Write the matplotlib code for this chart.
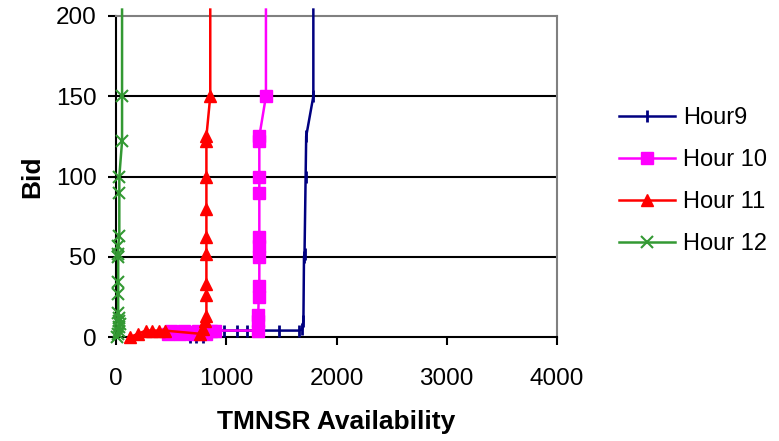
import matplotlib
matplotlib.use("Agg")
import matplotlib.pyplot as plt

plt.rcParams['font.family'] = ['Liberation Sans', 'DejaVu Sans']

# Hour 9
h9_x = [670, 725, 790, 930, 980, 1100, 1190, 1480, 1660, 1690, 1700, 1705, 1710, 1720, 1725, 1790, 1790]
h9_y = [0, 0, 0, 4, 4, 4, 4, 4, 4, 5, 10, 50, 52, 100, 125, 150, 204]
# Hour 10
h10_x = [470, 500, 540, 580, 620, 660, 700, 740, 780, 820, 860, 900, 1290, 1290, 1290, 1295, 1300, 1300, 1300, 1300, 1300, 1300, 1300, 1300, 1360, 1360]
h10_y = [2, 4, 3, 2, 4, 3, 2, 4, 3, 2, 4, 4, 4, 10, 14, 25, 32, 50, 57, 62, 90, 100, 122, 125, 150, 204]
# Hour 11
h11_x = [127, 200, 270, 330, 390, 440, 764, 790, 810, 820, 820, 820, 820, 820, 820, 820, 820, 820, 855, 855]
h11_y = [0, 2, 4, 4, 4, 4, 2, 5, 10, 13, 26, 33, 52, 62, 80, 100, 122, 125, 150, 204]
# Hour 12
h12_x = [10, 20, 25, 30, 40, 30, 25, 20, 20, 20, 20, 20, 20, 30, 30, 30, 55, 55, 55]
h12_y = [0, 2, 4, 6, 8, 10, 12, 15, 27, 34, 50, 52, 57, 63, 90, 100, 122, 150, 204]

x_ticks = [0, 1000, 2000, 3000, 4000]
y_ticks = [0, 50, 100, 150, 200]

fig = plt.figure(figsize=(7.79, 4.41), dpi=100)
ax = fig.add_axes([116/779, 1 - 337/441, (557-116)/779, (337-16)/441])

for yv in [50, 100, 150]:
    ax.axhline(yv, color='black', lw=1.5, zorder=1)

def mk(xs):
    return list(range(len(xs) - 1))

ax.plot(h9_x, h9_y, color='#000080', lw=1.8, marker='|', ms=8, mew=2, markevery=mk(h9_x),
        label='Hour9', clip_on=False, zorder=3)
ax.plot(h10_x, h10_y, color='#FF00FF', lw=1.8, marker='s', ms=9, markevery=mk(h10_x),
        label='Hour 10', clip_on=False, zorder=4)
ax.plot(h11_x, h11_y, color='#FF0000', lw=1.8, marker='^', ms=9, markevery=mk(h11_x),
        label='Hour 11', clip_on=False, zorder=5)
ax.plot(h12_x, h12_y, color='#339933', lw=1.8, marker='x', ms=8, mew=1.5, markevery=mk(h12_x),
        label='Hour 12', clip_on=False, zorder=6)

ax.set_xlim(0, 4000)
ax.set_ylim(0, 200)
ax.set_xticks(x_ticks)
ax.set_yticks(y_ticks)
ax.tick_params(axis='both', direction='out', length=6, width=1.5, labelsize=17.5, colors='black')
ax.tick_params(axis='x', pad=16)
ax.tick_params(axis='y', pad=8)
for s in ['top', 'right']:
    ax.spines[s].set_color('#808080')
    ax.spines[s].set_linewidth(1.5)
for s in ['left', 'bottom']:
    ax.spines[s].set_color('black')
    ax.spines[s].set_linewidth(1.5)

ax.set_xlabel('TMNSR Availability', fontsize=19, fontweight='bold', labelpad=15)
ax.set_ylabel('Bid', fontsize=19, fontweight='bold', labelpad=8)

leg = fig.legend(loc='center left', bbox_to_anchor=(598/779, 1 - 181/441), frameon=False,
                 fontsize=17, handlelength=2.35, labelspacing=0.85, handletextpad=0.35)

fig.savefig('out.png', dpi=100)
